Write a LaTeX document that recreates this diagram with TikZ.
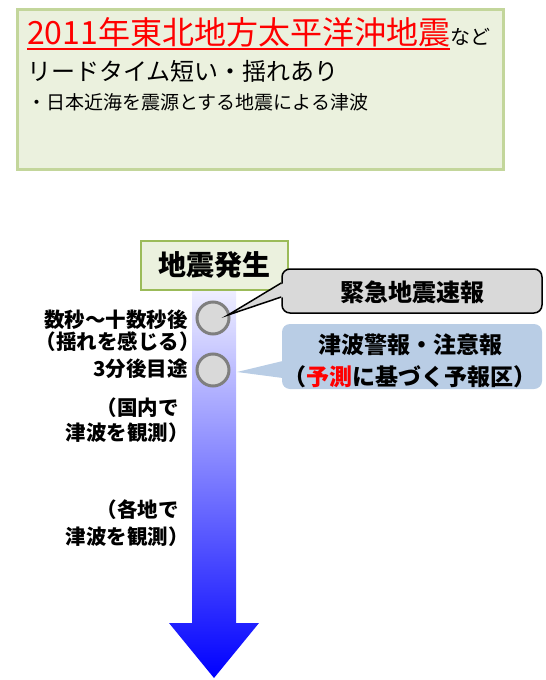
\documentclass[tikz,border=0pt]{standalone}
\usepackage{fontspec}
\setmainfont{Noto Sans CJK JP}
\usetikzlibrary{calc}
\definecolor{boxfill}{HTML}{EBF1DE}
\definecolor{topborder}{HTML}{C3D69B}
\definecolor{startborder}{HTML}{9BBB59}
\definecolor{calloutgray}{HTML}{D9D9D9}
\definecolor{calloutblue}{HTML}{B9CDE5}
\definecolor{circborder}{HTML}{7F7F7F}
\definecolor{arrowtop}{HTML}{F0F0FF}
\definecolor{arrowbot}{HTML}{0000FF}
\tikzset{
  circ/.style={circle, draw=circborder, fill=calloutgray, line width=3pt, minimum size=32pt, inner sep=0pt},
  lbl/.style={inner sep=0pt, font=\fontsize{20.5pt}{24pt}\selectfont\bfseries},
  cbtext/.style={inner sep=0pt, align=center, font=\fontsize{23pt}{32pt}\selectfont\bfseries},
}
\begin{document}
\begin{tikzpicture}[x=1pt,y=-1pt]
\useasboundingbox (0,0) rectangle (546,680);
% top box
\node[draw=topborder, fill=boxfill, line width=3pt, minimum width=486pt, minimum height=160pt, anchor=north west, inner sep=0pt] (top) at (16,7.5) {};
\node[anchor=base west, inner sep=0pt, text=red, font=\fontsize{32pt}{38pt}\selectfont] (title) at (27,44) {2011年東北地方太平洋沖地震};
\draw[red, line width=2pt] ([yshift=-5pt]title.base west) -- ([yshift=-5pt]title.base east);
\node[anchor=base west, inner sep=0pt, font=\fontsize{20pt}{24pt}\selectfont] (nado) at (title.base east) {など};
\node[anchor=base west, inner sep=0pt, font=\fontsize{24pt}{28pt}\selectfont] (line2) at (27,80) {リードタイム短い・揺れあり};
\node[anchor=base west, inner sep=0pt, font=\fontsize{19pt}{23pt}\selectfont] (line3) at (27,109) {・日本近海を震源とする地震による津波};
% arrow
\shade[top color=arrowtop, bottom color=arrowbot] (192,288) -- (236,288) -- (236,623) -- (259,623) -- (214,678) -- (169,623) -- (192,623) -- cycle;
% start box
\node[draw=startborder, fill=boxfill, line width=2pt, minimum width=147pt, minimum height=49pt, inner sep=0pt, font=\fontsize{28pt}{32pt}\selectfont\bfseries] (start) at (214,265) {地震発生};
% circles
\node[circ] (c1) at (213,318) {};
\node[circ] (c2) at (213,370) {};
% labels
\node[lbl, anchor=east] (l1) at (188,320) {数秒～十数秒後};
\node[lbl, anchor=east] (l2) at (200,342) {（揺れを感じる）};
\node[lbl, anchor=east] (l3) at (188,369) {3分後目途};
\node[lbl, anchor=east] (l4) at (179,408) {（国内で};
\node[lbl, anchor=east] (l5) at (189,433) {津波を観測）};
\node[lbl, anchor=east] (l6) at (179,510) {（各地で};
\node[lbl, anchor=east] (l7) at (189,537) {津波を観測）};
% callout 1
\coordinate (t1) at (228,315);
\node[draw=black, fill=calloutgray, line width=1.5pt, rounded corners=8pt, minimum width=260pt, minimum height=44pt, inner sep=0pt] (cb1) at (412,291) {};
\fill[calloutgray] ($(cb1.west)+(2.5,-8)$) -- (t1) -- ($(cb1.west)+(2.5,6)$) -- cycle;
\draw[line width=1.5pt, line join=miter] ($(cb1.west)+(0,-8)$) -- (t1) -- ($(cb1.west)+(0,6)$);
\node[cbtext, font=\fontsize{24pt}{28pt}\selectfont\bfseries] (cb1t) at (412,292) {緊急地震速報};
% callout 2
\coordinate (t2) at (237,372);
\node[fill=calloutblue, rounded corners=8pt, minimum width=260pt, minimum height=65pt, inner sep=0pt] (cb2) at (412,356.5) {};
\fill[calloutblue] ($(cb2.west)+(1,4.5)$) -- (t2) -- ($(cb2.west)+(1,21.5)$) -- cycle;
\node[cbtext] (cb2t) at (410,361) {津波警報・注意報\\（\textcolor{red}{予測}に基づく予報区）};
\end{tikzpicture}
\end{document}
